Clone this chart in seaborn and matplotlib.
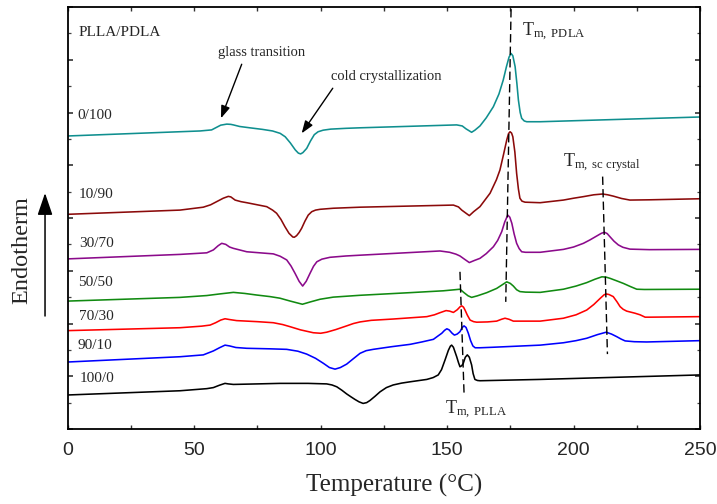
import matplotlib
matplotlib.use("Agg")
import matplotlib.pyplot as plt
from matplotlib.patches import FancyArrowPatch
from matplotlib.ticker import MultipleLocator, NullFormatter
import pandas as pd
import seaborn as sns

# ---- DSC heating traces (temperature in °C, heat flow in arbitrary stacked units) ----
blend_labels = ["0/100", "10/90", "30/70", "50/50", "70/30", "90/10", "100/0"]
line_colors = ["#0f8f8f", "#8b0a0a", "#8b0a8b", "#118a11", "#ff0000", "#0000ff", "#000000"]

temp_0_100 = [0, 52.3, 56.9, 58.9, 60.5, 62.9, 64.5, 65.5, 68.0, 72.0, 77.0, 81.0, 84.0, 86.0,
              88.0, 90.0, 91.2, 92.1, 93.0, 94.5, 96.0, 97.5, 99.0, 101.0, 104.0, 110.0, 115.6,
              153.8, 156.0, 157.5, 159.7, 161.0, 163.0, 165.5, 168.3, 170.5, 172.2, 173.5,
              174.5, 175.3, 176.0, 176.9, 177.6, 178.2, 178.9, 179.5, 180.5, 181.5, 186.8, 250]
hf_0_100 = [11.11, 11.30, 11.34, 11.44, 11.52, 11.56, 11.55, 11.53, 11.47, 11.42, 11.36, 11.30,
            11.21, 11.08, 10.85, 10.58, 10.46, 10.43, 10.48, 10.64, 10.92, 11.16, 11.27, 11.33,
            11.37, 11.40, 11.42, 11.53, 11.49, 11.38, 11.25, 11.33, 11.49, 11.80, 12.22, 12.70,
            13.23, 13.75, 14.10, 14.24, 14.15, 13.74, 13.10, 12.47, 12.00, 11.78, 11.68, 11.65,
            11.65, 11.83]

temp_10_90 = [0, 44.4, 53.6, 56.5, 58.9, 61.5, 63.5, 64.5, 66.2, 68.5, 70.8, 75.0, 78.7, 81.0,
              82.6, 84.3, 85.9, 87.5, 89.0, 89.6, 90.5, 91.5, 92.5, 93.8, 95.1, 96.5, 98.0, 99.8,
              105.0, 115.6, 152.5, 154.5, 155.8, 157.5, 158.8, 160.5, 163.0, 167.0, 169.5,
              170.9, 172.3, 173.6, 174.3, 174.9, 175.5, 176.0, 176.8, 177.5, 178.2, 178.8,
              179.6, 180.8, 186.8, 196.0, 200.0, 203.9, 208.0, 211.5, 213.5, 215.7, 219.0,
              222.3, 230.0, 250]
hf_10_90 = [8.14, 8.30, 8.41, 8.50, 8.62, 8.75, 8.82, 8.80, 8.68, 8.62, 8.58, 8.50, 8.43, 8.30,
            8.18, 7.95, 7.67, 7.42, 7.28, 7.27, 7.33, 7.45, 7.61, 7.88, 8.11, 8.24, 8.30, 8.33,
            8.37, 8.41, 8.49, 8.42, 8.30, 8.18, 8.09, 8.24, 8.43, 8.94, 9.45, 9.82, 10.40,
            10.96, 11.20, 11.27, 11.22, 11.08, 10.50, 9.69, 9.10, 8.75, 8.64, 8.60, 8.58, 8.68,
            8.75, 8.81, 8.88, 8.91, 8.88, 8.83, 8.74, 8.68, 8.69, 8.73]

temp_30_70 = [0, 44.4, 55.0, 57.6, 59.5, 60.9, 62.5, 64.0, 65.5, 70.8, 76.0, 81.3, 84.0, 86.6,
              88.3, 89.9, 91.5, 92.9, 94.3, 95.8, 97.2, 98.5, 100.5, 103.7, 110.0, 115.6, 147.2,
              151.0, 153.5, 155.1, 157.0, 158.8, 160.8, 163.0, 165.5, 168.3, 170.0, 171.6,
              172.8, 174.0, 174.8, 175.6, 176.5, 177.5, 178.5, 179.5, 181.0, 186.8, 196.0,
              200.0, 203.9, 206.5, 209.2, 211.0, 212.2, 213.3, 214.4, 216.0, 217.7, 219.5,
              222.3, 230.0, 250]
hf_30_70 = [6.45, 6.62, 6.68, 6.79, 6.95, 7.04, 7.00, 6.90, 6.85, 6.72, 6.68, 6.64, 6.55, 6.41,
            6.18, 5.90, 5.60, 5.42, 5.60, 5.90, 6.17, 6.34, 6.44, 6.51, 6.56, 6.59, 6.75, 6.70,
            6.63, 6.56, 6.43, 6.31, 6.39, 6.47, 6.65, 6.91, 7.15, 7.48, 7.85, 8.11, 8.03, 7.80,
            7.40, 7.04, 6.84, 6.72, 6.70, 6.70, 6.81, 6.90, 7.04, 7.17, 7.32, 7.42, 7.46, 7.41,
            7.29, 7.12, 6.98, 6.89, 6.82, 6.80, 6.81]

temp_50_50 = [0, 44.4, 55.0, 60.0, 65.5, 70.0, 74.7, 80.0, 83.9, 88.0, 92.8, 96.0, 99.8, 105.0,
              115.6, 135.4, 148.5, 153.0, 155.1, 156.7, 158.3, 159.7, 162.0, 165.7, 169.6,
              172.0, 173.6, 175.0, 176.2, 177.5, 178.8, 181.0, 186.8, 196.0, 201.0, 205.2,
              208.5, 211.2, 212.8, 214.5, 217.0, 219.7, 222.5, 225.0, 228.0, 250]
hf_50_50 = [4.85, 4.99, 5.06, 5.12, 5.18, 5.14, 5.08, 5.02, 4.96, 4.85, 4.73, 4.82, 4.92, 5.00,
            5.07, 5.17, 5.24, 5.28, 5.30, 5.17, 5.05, 4.99, 5.05, 5.17, 5.33, 5.48, 5.58, 5.52,
            5.42, 5.28, 5.21, 5.19, 5.18, 5.30, 5.42, 5.55, 5.68, 5.77, 5.76, 5.71, 5.62, 5.52,
            5.40, 5.30, 5.29, 5.30]

temp_70_30 = [0, 44.4, 53.0, 56.3, 58.5, 60.5, 62.2, 64.0, 66.8, 75.0, 81.3, 85.0, 87.9, 92.0,
              97.1, 100.0, 102.4, 106.0, 110.3, 113.0, 115.6, 120.0, 128.7, 142.0, 145.0,
              147.2, 149.6, 151.0, 152.5, 154.0, 155.2, 155.8, 156.5, 157.1, 158.0, 159.1,
              160.5, 161.7, 166.0, 169.6, 171.5, 172.9, 174.5, 176.2, 186.8, 196.0, 201.0,
              205.2, 208.0, 210.5, 212.1, 212.9, 214.0, 215.7, 217.2, 218.4, 219.6, 221.0,
              224.3, 226.3, 228.3, 230.0, 250]
hf_70_30 = [3.73, 3.84, 3.90, 3.94, 4.03, 4.13, 4.18, 4.15, 4.11, 4.07, 4.03, 3.96, 3.88, 3.76,
            3.65, 3.63, 3.67, 3.77, 3.91, 4.00, 4.06, 4.12, 4.17, 4.26, 4.33, 4.41, 4.49, 4.47,
            4.42, 4.52, 4.64, 4.67, 4.62, 4.51, 4.32, 4.13, 4.07, 4.05, 4.06, 4.09, 4.16, 4.20,
            4.16, 4.09, 4.09, 4.20, 4.33, 4.51, 4.72, 4.95, 5.09, 5.12, 5.10, 5.02, 4.82, 4.64,
            4.54, 4.47, 4.39, 4.33, 4.24, 4.24, 4.26]

temp_90_10 = [0, 44.4, 53.6, 56.0, 57.6, 60.0, 62.2, 64.0, 66.5, 70.8, 80.0, 86.6, 91.0, 94.5,
              98.0, 101.1, 103.5, 105.7, 107.8, 110.3, 113.0, 115.6, 118.0, 120.8, 128.0, 135.4,
              140.0, 144.6, 146.3, 147.9, 149.0, 149.9, 150.8, 152.0, 152.9, 154.0, 155.1,
              156.0, 156.7, 157.5, 158.4, 159.3, 160.2, 161.1, 163.0, 168.3, 186.8, 196.0,
              201.0, 205.2, 209.5, 212.9, 215.0, 217.1, 218.8, 220.4, 224.0, 228.9, 250]
hf_90_10 = [2.54, 2.74, 2.81, 2.90, 2.96, 3.08, 3.18, 3.15, 3.09, 3.06, 3.04, 3.02, 2.95, 2.84,
            2.68, 2.49, 2.33, 2.27, 2.33, 2.46, 2.67, 2.87, 2.97, 3.02, 3.12, 3.21, 3.30, 3.40,
            3.52, 3.63, 3.74, 3.80, 3.76, 3.63, 3.56, 3.60, 3.69, 3.85, 3.91, 3.85, 3.63, 3.35,
            3.15, 3.08, 3.08, 3.10, 3.18, 3.27, 3.35, 3.44, 3.58, 3.67, 3.60, 3.50, 3.41, 3.34,
            3.31, 3.30, 3.35]

temp_100_0 = [0, 44.4, 55.0, 57.6, 60.0, 62.2, 63.5, 65.5, 75.0, 83.9, 95.0, 102.4, 104.5,
              106.4, 108.4, 110.3, 112.0, 113.6, 115.2, 116.8, 118.2, 119.5, 121.5, 123.5,
              126.0, 128.7, 132.0, 135.4, 142.0, 144.5, 146.5, 147.8, 149.2, 150.5, 151.3,
              151.8, 152.5, 153.8, 154.5, 155.1, 155.8, 156.4, 157.2, 158.0, 158.8, 159.7,
              160.3, 161.0, 162.0, 163.0, 186.8, 250]
hf_100_0 = [1.29, 1.45, 1.53, 1.57, 1.66, 1.73, 1.71, 1.69, 1.71, 1.73, 1.73, 1.71, 1.67, 1.60,
            1.47, 1.33, 1.22, 1.12, 1.03, 0.97, 1.00, 1.08, 1.24, 1.41, 1.57, 1.67, 1.74, 1.79,
            1.88, 1.95, 2.05, 2.25, 2.62, 2.98, 3.14, 3.18, 3.10, 2.74, 2.52, 2.36, 2.40, 2.49,
            2.72, 2.81, 2.72, 2.43, 2.10, 1.88, 1.84, 1.83, 1.88, 2.05]

# Text label anchors for each blend (left edge x, centre y)
label_x = [3.8, 4.2, 4.6, 4.3, 4.5, 3.8, 4.9]
label_y = [11.88, 8.91, 7.04, 5.55, 4.28, 3.17, 1.92]

# Melting-temperature guide lines: (T_top, y_top, T_bottom, y_bottom)
tm_pdla_line = [175.3, 15.92, 173.2, 4.82]
tm_sc_line = [211.5, 9.57, 213.4, 2.84]
tm_plla_line = [155.1, 5.96, 156.7, 1.38]

temps = [temp_0_100, temp_10_90, temp_30_70, temp_50_50, temp_70_30, temp_90_10, temp_100_0]
flows = [hf_0_100, hf_10_90, hf_30_70, hf_50_50, hf_70_30, hf_90_10, hf_100_0]

frames = []
for lab, t, h in zip(blend_labels, temps, flows):
    frames.append(pd.DataFrame({"Temperature": t, "HeatFlow": h, "Blend": lab}))
df = pd.concat(frames, ignore_index=True)

sns.set_theme(style="white")
plt.rcParams["font.family"] = ["Liberation Serif", "DejaVu Serif"]
plt.rcParams["mathtext.fontset"] = "custom"
plt.rcParams["mathtext.rm"] = "Liberation Serif"
plt.rcParams["mathtext.it"] = "Liberation Serif:italic"

fig = plt.figure(figsize=(7.17, 5.04), dpi=100)
ax = fig.add_axes([0.0944, 0.1488, 0.8819, 0.8373])

sns.lineplot(data=df, x="Temperature", y="HeatFlow", hue="Blend", hue_order=blend_labels,
             palette=line_colors, estimator=None, sort=False, linewidth=1.15,
             legend=False, ax=ax)

ax.set_xlim(0, 250)
ax.set_ylim(0, 16)
ax.set_xlabel("")
ax.set_ylabel("")

# Ticks: inward on all four sides, labels only on the bottom axis
ax.xaxis.set_major_locator(MultipleLocator(50))
ax.xaxis.set_minor_locator(MultipleLocator(25))
ax.yaxis.set_major_locator(MultipleLocator(2))
ax.yaxis.set_minor_locator(MultipleLocator(1))
ax.yaxis.set_major_formatter(NullFormatter())
ax.tick_params(axis="x", which="both", direction="in", top=True, bottom=True,
               length=3.2, width=1.0, color="#333333")
ax.tick_params(axis="x", which="major", labelsize=14, pad=9)
ax.tick_params(axis="y", which="major", direction="in", left=True, right=True,
               length=3.8, width=1.1, color="#222222")
ax.tick_params(axis="y", which="minor", direction="in", left=True, right=True,
               length=2.4, width=0.9, color="#444444")
for lab in ax.get_xticklabels():
    lab.set_fontfamily(["Liberation Sans", "DejaVu Sans"])
for side in ax.spines.values():
    side.set_linewidth(1.3)
    side.set_color("black")

# Blend composition labels
ax.text(4.1, 15.05, "PLLA/PDLA", fontsize=11, ha="left", va="center")
for lab, lx, ly in zip(blend_labels, label_x, label_y):
    ax.text(lx, ly, lab, fontsize=11, ha="left", va="center")

# Transition annotations
arrow_kw = dict(arrowstyle="-|>,head_length=0.75,head_width=0.27", mutation_scale=10,
                color="black", lw=1.0, shrinkA=0, shrinkB=0)
ax.text(76.8, 14.29, "glass transition", fontsize=10.5, ha="center", va="center")
ax.annotate("", xy=(60.6, 11.78), xytext=(68.8, 13.83), arrowprops=arrow_kw)
ax.text(126.1, 13.35, "cold crystallization", fontsize=10.5, ha="center", va="center")
ax.annotate("", xy=(92.5, 11.21), xytext=(104.8, 12.92), arrowprops=arrow_kw)

dash = (0, (6, 3))
for seg in (tm_pdla_line, tm_sc_line, tm_plla_line):
    ax.plot([seg[0], seg[2]], [seg[1], seg[3]], color="black", lw=1.0, linestyle=dash)

ax.text(179.7, 15.05, r"$\mathrm{T_{m,\ PDLA}}$", fontsize=13, ha="left", va="center")
ax.text(195.8, 10.12, r"$\mathrm{T_{m,\ sc\ crystal}}$", fontsize=13, ha="left", va="center")
ax.text(149.2, 0.72, r"$\mathrm{T_{m,\ PLLA}}$", fontsize=13, ha="left", va="center")

# Axis titles
fig.text(0.5495, 0.0377, "Temperature (°C)", fontsize=18, ha="center", va="center")
fig.text(0.0307, 0.504, "Endotherm", fontsize=17.5, rotation=90, ha="center", va="center")
fig.add_artist(FancyArrowPatch(
    (0.0628, 0.373), (0.0628, 0.617), transform=fig.transFigure,
    arrowstyle="-|>,head_length=1.35,head_width=0.46", mutation_scale=10,
    color="black", lw=1.1, shrinkA=0, shrinkB=0))

fig.savefig("out.png", dpi=100)
